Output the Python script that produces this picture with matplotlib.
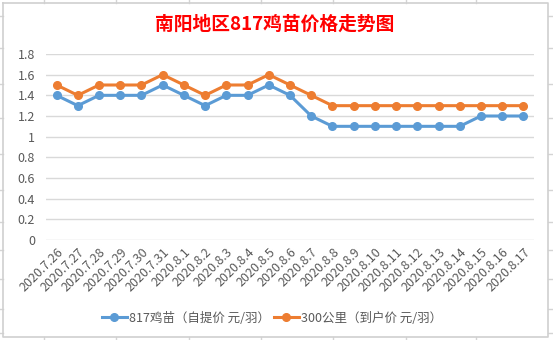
import matplotlib
matplotlib.use("Agg")
import matplotlib.pyplot as plt
from matplotlib.lines import Line2D

plt.rcParams['font.family'] = ['Noto Sans CJK SC', 'DejaVu Sans']

# data
dates = ['2020.7.26', '2020.7.27', '2020.7.28', '2020.7.29', '2020.7.30', '2020.7.31',
         '2020.8.1', '2020.8.2', '2020.8.3', '2020.8.4', '2020.8.5', '2020.8.6',
         '2020.8.7', '2020.8.8', '2020.8.9', '2020.8.10', '2020.8.11', '2020.8.12',
         '2020.8.13', '2020.8.14', '2020.8.15', '2020.8.16', '2020.8.17']
pickup = [1.4, 1.3, 1.4, 1.4, 1.4, 1.5, 1.4, 1.3, 1.4, 1.4, 1.5, 1.4,
          1.2, 1.1, 1.1, 1.1, 1.1, 1.1, 1.1, 1.1, 1.2, 1.2, 1.2]
delivered = [1.5, 1.4, 1.5, 1.5, 1.5, 1.6, 1.5, 1.4, 1.5, 1.5, 1.6, 1.5,
             1.4, 1.3, 1.3, 1.3, 1.3, 1.3, 1.3, 1.3, 1.3, 1.3, 1.3]
yticks = [0, 0.2, 0.4, 0.6, 0.8, 1, 1.2, 1.4, 1.6, 1.8]
ytick_labels = ['0', '0.2', '0.4', '0.6', '0.8', '1', '1.2', '1.4', '1.6', '1.8']

W, H = 553, 340
fig = plt.figure(figsize=(W / 100, H / 100), dpi=100)

# excel sheet grid peeking around the chart box
grid_c = '#d4d4d4'
for x in [44, 116, 189, 261, 333, 406, 476]:
    fig.add_artist(Line2D([x / W, x / W], [1, 1 - 3 / H], color=grid_c, lw=1))
    fig.add_artist(Line2D([x / W, x / W], [0, 3 / H], color=grid_c, lw=1))
for y in [16, 48, 84, 118, 154, 190, 222, 250, 279, 309, 333]:
    fig.add_artist(Line2D([0, 3 / W], [1 - y / H, 1 - y / H], color=grid_c, lw=1))
    fig.add_artist(Line2D([548 / W, 1], [1 - y / H, 1 - y / H], color=grid_c, lw=1))
# chart border
bx = [3 / W, 548 / W, 548 / W, 3 / W, 3 / W]
by = [1 - 3 / H, 1 - 3 / H, 1 - 337 / H, 1 - 337 / H, 1 - 3 / H]
fig.add_artist(Line2D(bx, by, color='#d0d0d0', lw=1.2))

ax = fig.add_axes([46 / W, 1 - 240 / H, (534 - 46) / W, (240 - 54) / H])
x = list(range(len(dates)))
ax.plot(x, pickup, color='#5B9BD5', lw=2.2, marker='o', ms=5.5, label='817鸡苗（自提价 元/羽）')
ax.plot(x, delivered, color='#ED7D31', lw=2.2, marker='o', ms=5.5, label='300公里（到户价 元/羽）')

ax.set_xlim(-0.5, len(dates) - 0.5)
ax.set_ylim(0, 1.8)
ax.set_yticks(yticks)
ax.set_yticklabels(ytick_labels)
ax.set_xticks(x)
ax.set_xticklabels(dates, rotation=45, ha='right', va='top', rotation_mode='anchor')
ax.tick_params(axis='both', length=0, labelsize=9, labelcolor='#595959')
ax.tick_params(axis='y', pad=8)
ax.tick_params(axis='x', pad=4)
ax.grid(axis='y', color='#d9d9d9', lw=1)
ax.set_axisbelow(True)
for s in ax.spines.values():
    s.set_visible(False)

fig.text(275 / W, 1 - 24 / H, '南阳地区817鸡苗价格走势图', color='#ff0000',
         fontsize=13.5, fontweight='bold', ha='center', va='center')

fig.legend(loc='center', bbox_to_anchor=(272 / W, 1 - 318 / H), ncol=2, frameon=False,
           fontsize=9, handlelength=2.0, handletextpad=0.2, columnspacing=0.3,
           labelcolor='#595959')

fig.savefig('out.png', dpi=100)
